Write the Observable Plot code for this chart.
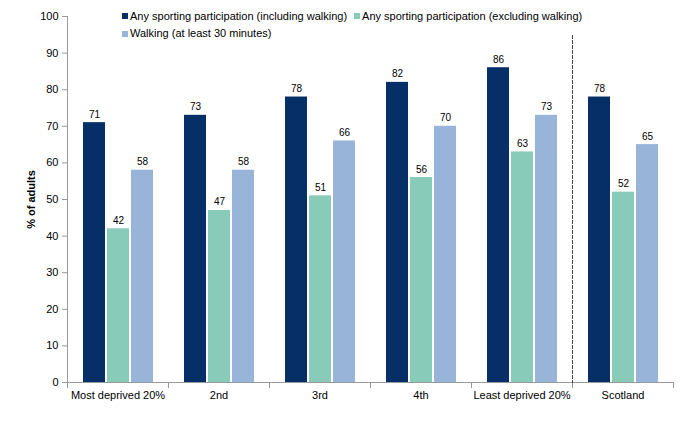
<!DOCTYPE html>
<html><head><meta charset="utf-8">
<script src="https://cdn.jsdelivr.net/npm/d3@7"></script>
<script src="https://cdn.jsdelivr.net/npm/@observablehq/plot@0.6"></script>
<style>
body{margin:0;background:#fff;font-family:"Liberation Sans",Arial,sans-serif;}
#wrap{position:relative;width:687px;height:426px;}
#legend{position:absolute;left:122px;top:7px;width:470px;font-size:11px;color:#000;line-height:17px;}
#legend .item{display:inline-flex;align-items:center;margin-right:7px;white-space:nowrap;}
#legend .sw{display:inline-block;width:6px;height:6px;margin-right:2px;}
</style></head>
<body>
<div id="wrap"><div id="chart"></div><div id="legend"></div></div>
<script>
const groups = ["Most deprived 20%", "2nd", "3rd", "4th", "Least deprived 20%", "Scotland"];
const series = ["Any sporting participation (including walking)", "Any sporting participation (excluding walking)", "Walking (at least 30 minutes)"];
const including = [71, 73, 78, 82, 86, 78];
const excluding = [42, 47, 51, 56, 63, 52];
const walking = [58, 58, 66, 70, 73, 65];
const colors = ["#062f67", "#88cbb9", "#98b4d9"];
const yTicks = [0, 10, 20, 30, 40, 50, 60, 70, 80, 90, 100];
const yLabel = "% of adults";

const valuesBySeries = [including, excluding, walking];
const data = [];
groups.forEach((g, i) => series.forEach((s, j) => data.push({group: g, series: s, value: valuesBySeries[j][i]})));

const chart = Plot.plot({
  width: 687, height: 426,
  marginLeft: 67, marginRight: 14, marginTop: 16, marginBottom: 44,
  style: {fontFamily: "Liberation Sans, Arial, sans-serif", fontSize: "11px", color: "#000", background: "#fff"},
  fx: {domain: groups, padding: 0, label: null},
  x: {domain: series, paddingInner: 0.1, paddingOuter: 0.65, axis: null},
  y: {domain: [0, 100], ticks: yTicks, label: null},
  color: {domain: series, range: colors},
  marks: [
    Plot.barY(data, {fx: "group", x: "series", y: "value", fill: "series"}),
    Plot.text(data, {fx: "group", x: "series", y: "value", text: d => String(d.value), lineAnchor: "bottom", dy: -5, fontSize: 10, fill: "#000"}),
    Plot.ruleY([0], {stroke: "#999"}),
    Plot.frame({anchor: "left", fx: groups[0], stroke: "#999"}),
    Plot.frame({anchor: "left", stroke: "#999", insetTop: 366, insetBottom: -5}),
    Plot.frame({anchor: "right", fx: groups[5], stroke: "#999", insetTop: 366, insetBottom: -5}),
    Plot.frame({anchor: "left", fx: groups[5], stroke: "#444", strokeDasharray: "3,2", insetTop: 19}),
    Plot.axisY({ticks: yTicks, tickSize: 5, tickPadding: 4, stroke: "#999", fill: "#000", fontSize: 11, label: yLabel, labelAnchor: "center", labelOffset: 40, labelArrow: "none"}),
    Plot.axisFx({anchor: "bottom", tickSize: 0, tickPadding: 9, fontSize: 11, fill: "#000", label: null})
  ]
});
document.getElementById("chart").appendChild(chart);
d3.select(chart).selectAll("[aria-label='y-axis label'] text").attr("font-weight", "bold");

const legend = document.getElementById("legend");
series.forEach((s, j) => {
  const item = document.createElement("span");
  item.className = "item";
  const sw = document.createElement("span");
  sw.className = "sw";
  sw.style.background = colors[j];
  item.appendChild(sw);
  item.appendChild(document.createTextNode(s));
  legend.appendChild(item);
});
</script>
</body></html>
